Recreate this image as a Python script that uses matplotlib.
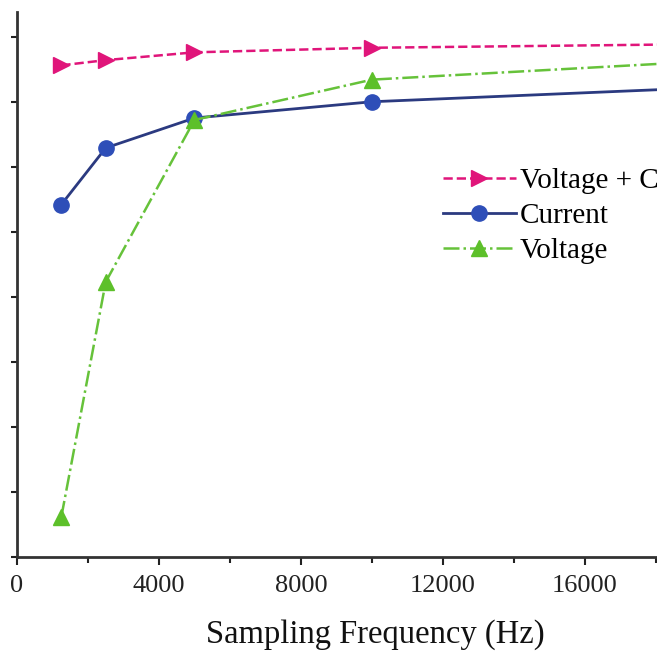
import matplotlib
matplotlib.use("Agg")
import matplotlib.pyplot as plt
from matplotlib.ticker import MultipleLocator

# sampling frequencies (Hz); last point lies past the cropped right edge
freq = [1250, 2500, 5000, 10000, 20000]
# accuracy (%)
acc_vc = [97.8, 98.2, 98.8, 99.15, 99.45]
acc_current = [87.1, 91.45, 93.75, 95.0, 96.15]
acc_voltage = [63.1, 81.15, 93.6, 96.7, 98.2]

plt.rcParams['font.family'] = ['Liberation Serif', 'DejaVu Serif']

fig = plt.figure(figsize=(6.57, 6.55), dpi=100)
ax = fig.add_axes([17/657, (655-557)/655, 640/657, (557-12)/655])

ax.plot(freq, acc_vc, linestyle='--', color='#e0157a', lw=1.8,
        marker='>', ms=11, mfc='#e0157a', mec='#e0157a', label='Voltage + Current')
ax.plot(freq, acc_current, linestyle='-', color='#2b3a80', lw=2,
        marker='o', ms=11, mfc='#2e4eb8', mec='#2e4eb8', label='Current')
ax.plot(freq, acc_voltage, linestyle='-.', color='#66c23a', lw=1.8,
        marker='^', ms=11, mfc='#5dc02a', mec='#5dc02a', label='Voltage')

ax.set_xlim(0, 18030)
ax.set_ylim(60, 101.9)
ax.xaxis.set_major_locator(MultipleLocator(4000))
ax.xaxis.set_minor_locator(MultipleLocator(2000))
ax.yaxis.set_major_locator(MultipleLocator(5))
ax.tick_params(axis='x', which='major', direction='out', length=6, width=1.5,
               labelsize=19, pad=7, colors='#222222')
ax.tick_params(axis='x', which='minor', direction='out', length=4, width=1.5,
               colors='#222222')
ax.tick_params(axis='y', direction='out', length=4, width=1.5,
               labelleft=False, colors='#222222')

for s in ['top', 'right']:
    ax.spines[s].set_visible(False)
for s in ['left', 'bottom']:
    ax.spines[s].set_linewidth(2)
    ax.spines[s].set_color('#333333')

ax.set_xlabel('Sampling Frequency (Hz)', fontsize=23.5, color='#111111')
ax.xaxis.set_label_coords((375-17)/640, -(635-557)/545, transform=ax.transAxes)
ax.xaxis.label.set_va('center')

leg = ax.legend(loc='upper left', bbox_to_anchor=(0.647, 0.736), frameon=False,
                fontsize=21, handlelength=2.5, handletextpad=0.15,
                labelspacing=0.29, borderaxespad=0)

fig.savefig('out.png', dpi=100)
